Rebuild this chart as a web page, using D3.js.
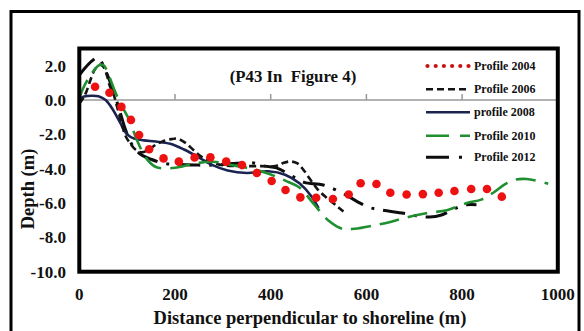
<!DOCTYPE html>
<html>
<head>
<meta charset="utf-8">
<script src="https://cdn.jsdelivr.net/npm/d3@7"></script>
<style>
  html, body { margin: 0; padding: 0; background: #fff; }
  svg { display: block; }
  text { font-family: "Times New Roman", "Liberation Serif", "DejaVu Serif", serif; font-weight: bold; fill: #111; }
</style>
</head>
<body>
<svg id="chart" width="584" height="331"></svg>
<script>
// ---- data (distance m, depth m) ----
const xTicks = [0, 200, 400, 600, 800, 1000];
const yTicks = [2, 0, -2, -4, -6, -8, -10];
const legendLabels = ["Profile 2004", "Profile 2006", "profile 2008", "Profile 2010", "Profile 2012"];
const chartTitle = "(P43 In  Figure 4)";

const profile2004 = [[33,0.77],[63,0.42],[88,-0.4],[108,-1.16],[125,-2.04],[146,-2.87],[176,-3.40],[208,-3.59],[241,-3.35],[274,-3.34],[307,-3.59],[340,-3.79],[371,-4.25],[402,-4.72],[431,-5.24],[462,-5.67],[495,-5.69],[530,-5.77],[563,-5.50],[588,-4.85],[621,-4.89],[650,-5.40],[684,-5.50],[718,-5.48],[751,-5.40],[784,-5.30],[819,-5.18],[852,-5.18],[883,-5.63]];

const profile2006 = [[0,-0.2],[8,0.1],[15,0.5],[25,1.3],[33,1.8],[42,2.05],[50,1.95],[57,1.5],[64,0.8],[72,0.3],[80,-0.5],[88,-1.3],[96,-2.05],[108,-2.6],[118,-2.9],[130,-3.05],[145,-2.9],[160,-2.6],[175,-2.4],[192,-2.28],[205,-2.25],[222,-2.5],[238,-2.9],[255,-3.3],[275,-3.6],[300,-3.8],[340,-3.85],[380,-3.85],[410,-3.85],[425,-3.68],[440,-3.58],[455,-3.68],[468,-4.05],[482,-4.6],[498,-5.2],[515,-5.65],[535,-6.1],[552,-6.5]];

const profile2008 = [[0,0.1],[10,0.2],[25,0.25],[40,0.22],[55,0.0],[70,-0.55],[85,-1.3],[100,-2.0],[115,-2.25],[135,-2.35],[160,-2.42],[190,-2.55],[220,-2.9],[250,-3.35],[275,-3.75],[310,-4.1],[350,-4.25],[395,-4.15],[430,-4.35],[460,-4.85],[485,-5.6],[500,-6.3]];

const profile2010 = [[0,0.1],[10,0.8],[25,1.5],[40,2.0],[50,2.05],[62,1.4],[76,0.4],[90,-0.4],[105,-1.2],[120,-2.3],[140,-3.4],[160,-3.9],[200,-3.95],[240,-3.7],[280,-3.6],[320,-3.8],[350,-3.95],[380,-4.15],[410,-4.45],[435,-4.75],[460,-5.1],[490,-6.05],[520,-7.0],[550,-7.5],[575,-7.5],[620,-7.28],[650,-7.1],[690,-6.8],[725,-6.6],[770,-6.4],[810,-6.0],[840,-5.8],[865,-5.4],[890,-4.9],[910,-4.65],[935,-4.6],[980,-4.88]];

const profile2012 = [[0,1.45],[38,2.45],[55,1.7],[70,0.6],[82,-0.4],[95,-1.6],[108,-2.5],[125,-3.1],[150,-3.45],[178,-3.7],[210,-3.75],[240,-3.78],[270,-3.8],[300,-3.75],[330,-3.68],[360,-3.65],[388,-3.85],[412,-3.95],[440,-4.35],[470,-4.8],[510,-4.95],[555,-5.5],[580,-5.9],[605,-6.25],[630,-6.4],[678,-6.6],[705,-6.75],[732,-6.82],[757,-6.7],[780,-6.4],[803,-6.12],[830,-6.1]];

// ---- layout ----
const svg = d3.select("#chart");
const x = d3.scaleLinear().domain([0, 1000]).range([79.3, 557.8]);
const y = d3.scaleLinear().domain([-10, 3]).range([271.7, 48.5]);

// outer frame
svg.append("rect").attr("x", 11).attr("y", 11.5).attr("width", 568).attr("height", 340)
  .attr("fill", "none").attr("stroke", "#000").attr("stroke-width", 3);

// clip
svg.append("clipPath").attr("id", "clip").append("rect")
  .attr("x", x(0)).attr("y", y(3)).attr("width", x(1000) - x(0)).attr("height", y(-10) - y(3));

// zero line with upward ticks
svg.append("line").attr("x1", x(0)).attr("x2", x(1000)).attr("y1", y(0)).attr("y2", y(0))
  .attr("stroke", "#999").attr("stroke-width", 1.5);
svg.append("g").selectAll("line").data(xTicks.slice(1)).join("line")
  .attr("x1", d => x(d)).attr("x2", d => x(d)).attr("y1", y(0)).attr("y2", y(0) - 6)
  .attr("stroke", "#999").attr("stroke-width", 1.5);

const g = svg.append("g").attr("clip-path", "url(#clip)");
const line = d3.line().x(d => x(d[0])).y(d => y(d[1])).curve(d3.curveCatmullRom.alpha(0.5));

const styles = {
  p2006: { stroke: "#141414", width: 2.6, dash: "7,4" },
  p2008: { stroke: "#1b2450", width: 2.6, dash: null },
  p2010: { stroke: "#1f8f30", width: 2.6, dash: "20,9" },
  p2012: { stroke: "#0d0d0d", width: 3, dash: "22,9,3,9" }
};

function drawLine(data, s) {
  g.append("path").datum(data).attr("d", line).attr("fill", "none")
    .attr("stroke", s.stroke).attr("stroke-width", s.width)
    .attr("stroke-dasharray", s.dash);
}
drawLine(profile2012, styles.p2012);
drawLine(profile2008, styles.p2008);
drawLine(profile2006, styles.p2006);
drawLine(profile2010, styles.p2010);

g.append("g").selectAll("circle").data(profile2004).join("circle")
  .attr("cx", d => x(d[0])).attr("cy", d => y(d[1])).attr("r", 4.3).attr("fill", "#ee1111");

// plot frame
svg.append("rect").attr("x", x(0)).attr("y", y(3)).attr("width", x(1000) - x(0)).attr("height", y(-10) - y(3))
  .attr("fill", "none").attr("stroke", "#000").attr("stroke-width", 4);

// tick labels
svg.append("g").selectAll("text").data(xTicks).join("text")
  .attr("x", d => x(d)).attr("y", 300).attr("text-anchor", "middle")
  .style("font-size", "17px").text(d => d);
svg.append("g").selectAll("text").data(yTicks).join("text")
  .attr("x", 66).attr("y", d => y(d) + 6).attr("text-anchor", "end")
  .style("font-size", "17px").text(d => d.toFixed(1));

// axis titles
svg.append("text").attr("x", 310).attr("y", 324).attr("text-anchor", "middle")
  .style("font-size", "18.5px").text("Distance perpendicular to shoreline (m)");
svg.append("text").attr("transform", "translate(34,189) rotate(-90)").attr("text-anchor", "middle")
  .style("font-size", "18.5px").text("Depth (m)");

// title
svg.append("text").attr("x", 293).attr("y", 81.5).attr("text-anchor", "middle")
  .style("font-size", "16.8px").style("white-space", "pre").text(chartTitle);

// legend
const rowsY = [66, 89.3, 112.3, 135.7, 157.3];
const lx0 = 426, lx1 = 470;
const leg = svg.append("g");
// 2004 dots
leg.append("g").selectAll("circle").data(d3.range(6)).join("circle")
  .attr("cx", i => lx0 + 1.5 + i * 8.2).attr("cy", rowsY[0]).attr("r", 2.1).attr("fill", "#cc1111");
const legStyles = [null, styles.p2006, styles.p2008, { stroke: "#1f8f30", width: 2.6, dash: "23,11" }, { stroke: "#0d0d0d", width: 3, dash: "23,10,3,20" }];
legStyles.forEach((s, i) => {
  if (!s) return;
  leg.append("line").attr("x1", lx0).attr("x2", lx1).attr("y1", rowsY[i]).attr("y2", rowsY[i])
    .attr("stroke", s.stroke).attr("stroke-width", s.width).attr("stroke-dasharray", s.dash);
});
leg.append("g").selectAll("text").data(legendLabels).join("text")
  .attr("x", 474).attr("y", (d, i) => rowsY[i] + 4).style("font-size", "12px").text(d => d);
</script>
</body>
</html>
